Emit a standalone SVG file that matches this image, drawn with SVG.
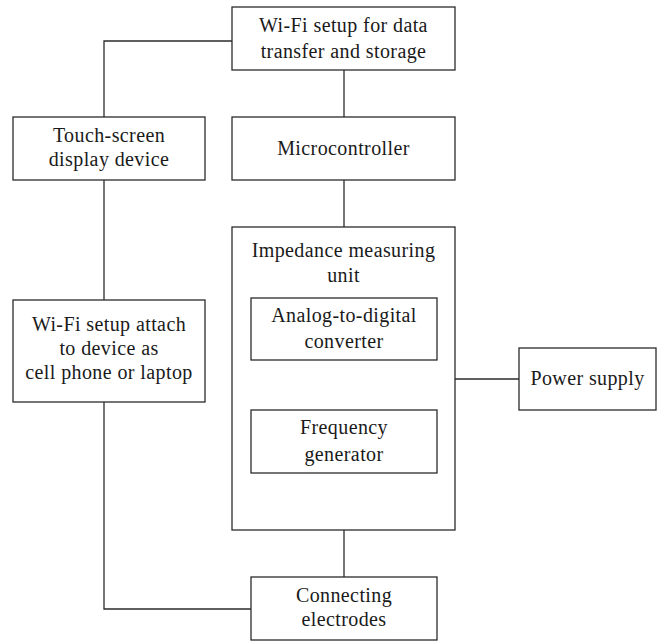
<svg xmlns="http://www.w3.org/2000/svg" width="661" height="642" viewBox="0 0 661 642">
  <style>
    .box { fill: #ffffff; stroke: #2b2b2b; stroke-width: 1.3; }
    .wire { fill: none; stroke: #2b2b2b; stroke-width: 1.3; }
    text { font-family: "Liberation Serif", "Times New Roman", serif; font-size: 20px; letter-spacing: 0.4px; fill: #1a1a1a; text-anchor: middle; }
  </style>
  <rect width="661" height="642" fill="#ffffff"/>

  <!-- connectors -->
  <g id="connectors">
    <polyline class="wire" points="232,41 104,41 104,117"/>
    <line class="wire" x1="344" y1="70" x2="344" y2="117"/>
    <line class="wire" x1="104" y1="180" x2="104" y2="300"/>
    <line class="wire" x1="344" y1="180" x2="344" y2="227"/>
    <line class="wire" x1="455" y1="379" x2="519" y2="379"/>
    <line class="wire" x1="344" y1="530" x2="344" y2="577"/>
    <polyline class="wire" points="104,402 104,609 251,609"/>
  </g>

  <g id="wifi-storage">
    <rect class="box" x="232" y="7" width="223" height="63"/>
    <text x="343.5" y="32">Wi-Fi setup for data</text>
    <text x="343.5" y="58">transfer and storage</text>
  </g>

  <g id="touch-screen">
    <rect class="box" x="13" y="117" width="192" height="63"/>
    <text x="109" y="142">Touch-screen</text>
    <text x="109" y="166">display device</text>
  </g>

  <g id="microcontroller">
    <rect class="box" x="232" y="117" width="223" height="63"/>
    <text x="343.5" y="155">Microcontroller</text>
  </g>

  <g id="wifi-device">
    <rect class="box" x="13" y="300" width="192" height="102"/>
    <text x="109" y="331">Wi-Fi setup attach</text>
    <text x="109" y="355">to device as</text>
    <text x="109" y="379">cell phone or laptop</text>
  </g>

  <g id="impedance-unit">
    <rect class="box" x="232" y="227" width="223" height="303"/>
    <text x="343.5" y="257">Impedance measuring</text>
    <text x="343.5" y="282">unit</text>
  </g>

  <g id="adc">
    <rect class="box" x="251" y="298" width="186" height="62"/>
    <text x="344" y="322">Analog-to-digital</text>
    <text x="344" y="348">converter</text>
  </g>

  <g id="frequency-generator">
    <rect class="box" x="251" y="410" width="186" height="63"/>
    <text x="344" y="434">Frequency</text>
    <text x="344" y="461">generator</text>
  </g>

  <g id="power-supply">
    <rect class="box" x="519" y="348" width="137" height="62"/>
    <text x="587.5" y="385">Power supply</text>
  </g>

  <g id="electrodes">
    <rect class="box" x="251" y="577" width="186" height="63"/>
    <text x="344" y="602">Connecting</text>
    <text x="344" y="626">electrodes</text>
  </g>
</svg>
